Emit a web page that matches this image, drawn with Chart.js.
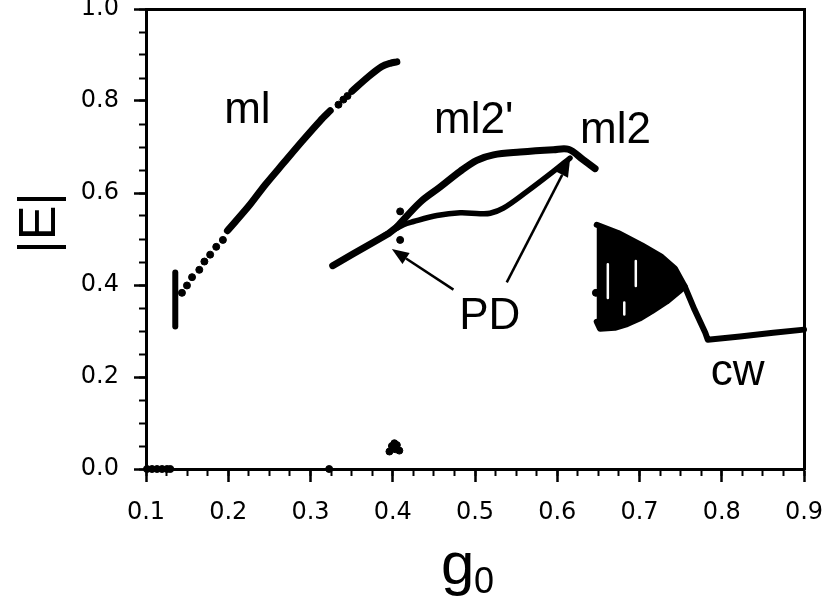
<!DOCTYPE html>
<html>
<head>
<meta charset="utf-8">
<script src="https://cdn.jsdelivr.net/npm/chart.js@4.4.0/dist/chart.umd.min.js"></script>
<style>
  html, body { margin: 0; padding: 0; background: #fff; }
</style>
</head>
<body>
<canvas id="myChart" width="827" height="605"></canvas>
<script>
// tick positions
var xTicks = [0.1, 0.2, 0.3, 0.4, 0.5, 0.6, 0.7, 0.8, 0.9];
var yTicks = [0.0, 0.2, 0.4, 0.6, 0.8, 1.0];
var xMinorTicks = [0.1, 0.125, 0.15, 0.175, 0.2, 0.225, 0.25, 0.275, 0.3, 0.325, 0.35, 0.375,
                   0.4, 0.425, 0.45, 0.475, 0.5, 0.525, 0.55, 0.575, 0.6, 0.625, 0.65, 0.675,
                   0.7, 0.725, 0.75, 0.775, 0.8, 0.825, 0.85, 0.875, 0.9];
var yMinorTicks = [0, 0.05, 0.1, 0.15, 0.2, 0.25, 0.3, 0.35, 0.4, 0.45, 0.5, 0.55, 0.6, 0.65,
                   0.7, 0.75, 0.8, 0.85, 0.9, 0.95, 1.0];

// |E| vs g0 as [g0, |E|]
var zeroDots = [[0.1012, 0], [0.1073, 0], [0.1134, 0], [0.1195, 0], [0.1255, 0], [0.1295, 0], [0.3227, 0]];
var lowCluster = [[0.396, 0.038], [0.399, 0.050], [0.402, 0.056], [0.405, 0.052], [0.408, 0.040], [0.403, 0.043]];
var mlJump = [[0.1356, 0.310], [0.1356, 0.427]];
var mlSparse = [[0.1437, 0.383], [0.1498, 0.399], [0.156, 0.417], [0.1648, 0.433], [0.171, 0.451],
                [0.178, 0.466], [0.1854, 0.483], [0.1935, 0.498], [0.334, 0.792], [0.340, 0.803], [0.345, 0.811]];
var mlLower = [[0.1990, 0.518], [0.2247, 0.571], [0.245, 0.618], [0.2672, 0.665], [0.2895, 0.712],
               [0.3118, 0.757], [0.324, 0.779]];
var mlUpper = [[0.3503, 0.821], [0.3705, 0.853], [0.3868, 0.875], [0.397, 0.882], [0.405, 0.885]];
var ml2Stem = [[0.327, 0.442], [0.352, 0.468], [0.3766, 0.493], [0.395, 0.512], [0.405, 0.526]];
var ml2Prime = [[0.405, 0.526], [0.4333, 0.580], [0.4576, 0.613], [0.4819, 0.647], [0.5022, 0.671],
                [0.5224, 0.683], [0.5548, 0.689], [0.5953, 0.694], [0.6135, 0.695], [0.6317, 0.672], [0.646, 0.653]];
var ml2 = [[0.390, 0.508], [0.413, 0.531], [0.4252, 0.538], [0.4536, 0.551], [0.4819, 0.557], [0.5062, 0.555],
           [0.5184, 0.556], [0.5345, 0.567], [0.563, 0.603], [0.5953, 0.647], [0.6155, 0.676]];
var ml2Dots = [[0.409, 0.560], [0.409, 0.498]];
var chaosBand = [[0.648, 0.531], [0.674, 0.513], [0.703, 0.486], [0.727, 0.461], [0.743, 0.436], [0.755, 0.397],
                 [0.748, 0.386], [0.733, 0.364], [0.715, 0.343], [0.700, 0.327], [0.685, 0.315], [0.670, 0.307],
                 [0.652, 0.305], [0.648, 0.320]];
var chaosGaps = [[[0.6615, 0.445], [0.6615, 0.372]], [[0.6955, 0.452], [0.6955, 0.398]], [[0.6815, 0.362], [0.6815, 0.336]]];
var chaosDot = [[0.647, 0.383]];
var cw = [[0.755, 0.397], [0.767, 0.346], [0.780, 0.296], [0.783, 0.281], [0.8222, 0.288], [0.8626, 0.296], [0.9, 0.303]];

function pts(arr) {
    return arr.map(function (p) { return {x: p[0], y: p[1]}; });
}
function lineSet(arr, width, color) {
    return {data: pts(arr), showLine: true, pointRadius: 0, borderColor: color || '#000',
            borderWidth: width, borderCapStyle: 'round', borderJoinStyle: 'round', clip: false};
}
function dotSet(arr, r) {
    return {data: pts(arr), showLine: false, pointRadius: r, pointBackgroundColor: '#000',
            pointBorderColor: '#000', pointBorderWidth: 1, clip: false};
}

var chartData = {
    datasets: [
        dotSet(zeroDots, 3.5),
        dotSet(lowCluster, 3.5),
        lineSet(mlJump, 6),
        dotSet(mlSparse, 3.5),
        Object.assign(lineSet(mlLower, 7), {tension: 0.3}),
        Object.assign(lineSet(mlUpper, 7), {tension: 0.3}),
        lineSet(ml2Stem, 7),
        Object.assign(lineSet(ml2Prime, 7), {tension: 0.35}),
        Object.assign(lineSet(ml2, 5.5), {tension: 0.35}),
        dotSet(ml2Dots, 3.5),
        Object.assign(lineSet(chaosBand, 6), {fill: 'shape', backgroundColor: '#000'}),
        dotSet(chaosDot, 3.5),
        lineSet(cw, 6)
    ].concat(chaosGaps.map(function (g) {
        return Object.assign(lineSet(g, 2.5, '#fff'), {order: -1, borderCapStyle: 'butt'});
    }))
};

// text and arrows placed in data units
var notes = {
    labels: [['ml', 0.1951, 0.753], ['ml2\'', 0.4503, 0.7311], ['ml2', 0.6277, 0.7093],
             ['PD', 0.4807, 0.305], ['cw', 0.7865, 0.1833]],
    arrows: [[0.4738, 0.390, 0.3989, 0.478], [0.5386, 0.4057, 0.6155, 0.6724]]
};

var notesPlugin = {
    id: 'notes',
    afterDraw: function (chart) {
        var ctx = chart.ctx, xs = chart.scales.x, ys = chart.scales.y;
        ctx.save();
        ctx.fillStyle = '#000';
        ctx.strokeStyle = '#000';
        ctx.font = '44px "Liberation Sans", Arial, sans-serif';
        ctx.textAlign = 'left';
        ctx.textBaseline = 'alphabetic';
        notes.labels.forEach(function (l) {
            ctx.fillText(l[0], xs.getPixelForValue(l[1]), ys.getPixelForValue(l[2]));
        });
        ctx.lineWidth = 2.5;
        notes.arrows.forEach(function (a) {
            var x0 = xs.getPixelForValue(a[0]), y0 = ys.getPixelForValue(a[1]);
            var x1 = xs.getPixelForValue(a[2]), y1 = ys.getPixelForValue(a[3]);
            var ang = Math.atan2(y1 - y0, x1 - x0), len = 17, hw = 6.5;
            var bx = x1 - len * Math.cos(ang), by = y1 - len * Math.sin(ang);
            ctx.beginPath();
            ctx.moveTo(x0, y0);
            ctx.lineTo(bx, by);
            ctx.stroke();
            ctx.beginPath();
            ctx.moveTo(x1, y1);
            ctx.lineTo(bx + hw * Math.sin(ang), by - hw * Math.cos(ang));
            ctx.lineTo(bx - hw * Math.sin(ang), by + hw * Math.cos(ang));
            ctx.closePath();
            ctx.fill();
        });
        // axis titles
        ctx.save();
        ctx.translate(55, 223);
        ctx.rotate(-Math.PI / 2);
        ctx.textAlign = 'center';
        ctx.font = '52px "Liberation Sans", Arial, sans-serif';
        ctx.fillText('|E|', 0, 0);
        ctx.restore();
        ctx.font = '60px "Liberation Sans", Arial, sans-serif';
        ctx.fillText('g', 441, 584);
        ctx.font = '36px "Liberation Sans", Arial, sans-serif';
        ctx.fillText('0', 474, 593);
        ctx.restore();
    }
};

var tickFont = {family: 'DejaVu Sans', size: 24};
function setTicks(values) {
    return function (scale) {
        scale.ticks = values.map(function (v) { return {value: v}; });
    };
}
function fixSize(prop, size) {
    return function (s) {
        s[prop] = size;
        s.paddingTop = 0;
        s.paddingBottom = 0;
        s.paddingLeft = 0;
        s.paddingRight = 0;
    };
}

var chartOptions = {
    responsive: false,
    animation: false,
    layout: {padding: {top: 9, right: 23, left: 0, bottom: 0}},
    plugins: {legend: {display: false}, tooltip: {enabled: false}},
    scales: {
        x: {
            type: 'linear', position: 'bottom', min: 0.1, max: 0.9, weight: 1,
            afterBuildTicks: setTicks(xTicks),
            afterFit: fixSize('height', 136),
            border: {display: true, color: '#000', width: 3},
            grid: {drawOnChartArea: false, tickLength: 13, tickWidth: 2.5, tickColor: '#000'},
            ticks: {autoSkip: false, maxRotation: 0, color: '#000', padding: 16, font: tickFont,
                    callback: function (v) { return v.toFixed(1); }}
        },
        xMinor: {
            type: 'linear', position: 'bottom', min: 0.1, max: 0.9, weight: 0,
            afterBuildTicks: setTicks(xMinorTicks),
            afterFit: fixSize('height', 0),
            border: {display: false},
            grid: {drawOnChartArea: false, tickLength: 7, tickWidth: 2, tickColor: '#000'},
            ticks: {display: false, autoSkip: false}
        },
        xTop: {
            type: 'linear', position: 'top', min: 0.1, max: 0.9,
            afterFit: fixSize('height', 0),
            border: {display: true, color: '#000', width: 3},
            grid: {drawOnChartArea: false, drawTicks: false},
            ticks: {display: false}
        },
        y: {
            type: 'linear', position: 'left', min: 0, max: 1, weight: 1,
            afterBuildTicks: setTicks(yTicks),
            afterFit: fixSize('width', 146),
            border: {display: true, color: '#000', width: 3},
            grid: {drawOnChartArea: false, tickLength: 12, tickWidth: 2.5, tickColor: '#000'},
            ticks: {autoSkip: false, color: '#000', padding: 15, font: tickFont,
                    callback: function (v) { return v.toFixed(1); }}
        },
        yMinor: {
            type: 'linear', position: 'left', min: 0, max: 1, weight: 0,
            afterBuildTicks: setTicks(yMinorTicks),
            afterFit: fixSize('width', 0),
            border: {display: false},
            grid: {drawOnChartArea: false, tickLength: 7, tickWidth: 2, tickColor: '#000'},
            ticks: {display: false, autoSkip: false}
        },
        yRight: {
            type: 'linear', position: 'right', min: 0, max: 1,
            afterFit: fixSize('width', 0),
            border: {display: true, color: '#000', width: 3},
            grid: {drawOnChartArea: false, drawTicks: false},
            ticks: {display: false}
        }
    }
};

var element = document.getElementById('myChart').getContext('2d');
var chart = new Chart(element, {type: 'scatter', data: chartData, options: chartOptions, plugins: [notesPlugin]});
</script>
</body>
</html>
